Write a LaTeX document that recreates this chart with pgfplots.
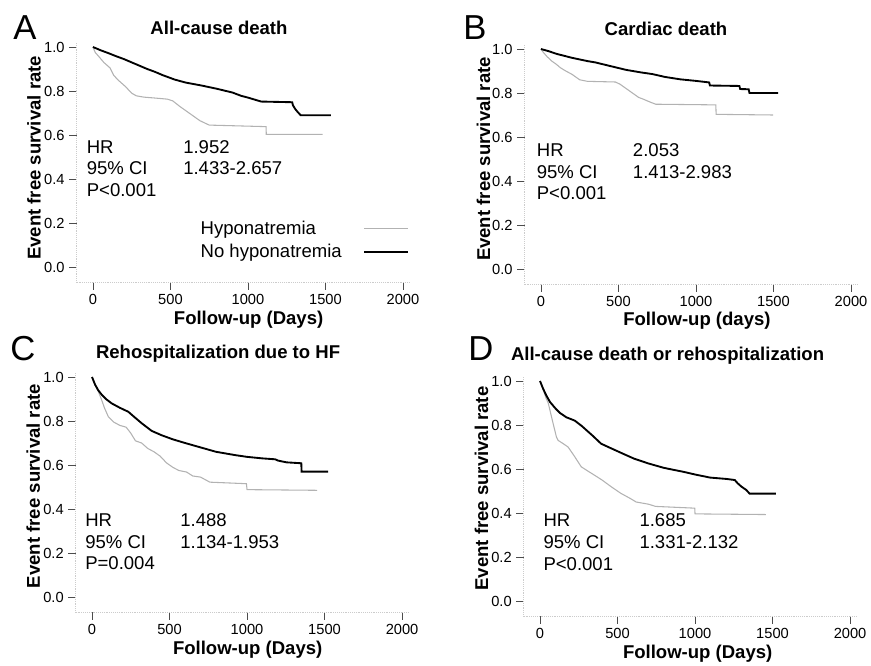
\documentclass[border=0pt]{standalone}
\usepackage{fontspec}
\setmainfont{Liberation Sans}
\usepackage{pgfplots}
\pgfplotsset{compat=1.18}

\pgfplotsset{
  km/.style={
    scale only axis, width=249.4pt, height=179.85pt,
    xmin=-105, xmax=2040, ymin=-0.07, ymax=1.02,
    axis x line*=bottom, axis y line*=left,
    axis line style={gray!40, densely dotted, -},
    xtick={0,500,1000,1500,2000}, ytick={0,0.2,0.4,0.6,0.8,1.0},
    yticklabel style={/pgf/number format/fixed, /pgf/number format/fixed zerofill, /pgf/number format/precision=1},
    xticklabel style={/pgf/number format/1000 sep={}},
    /pgf/number format/assume math mode=true,
    tick label style={font=\fontsize{11}{13}\selectfont},
    tick align=outside, major tick length=5.5pt, tick style={black!70, thin},
    label style={font=\fontsize{13.9}{16}\selectfont\bfseries},
    title style={font=\fontsize{13.9}{16}\selectfont\bfseries, anchor=center, yshift=0pt},
    xlabel style={anchor=center}, ylabel style={anchor=center},
    ylabel={Event free survival rate},
    clip=false,
  },
  hypo/.style={gray!60, line width=0.8pt},
  nohypo/.style={black, line width=1.4pt},
}
\tikzset{txt/.style={anchor=west, inner sep=0pt, font=\fontsize{13.9}{16}\selectfont}}

\begin{document}
\begin{tikzpicture}
\path[use as bounding box] (0,0) rectangle (653.25pt,498.75pt);

% A: all-cause death
\begin{axis}[km, anchor=south west, at={(57.5pt,286.95pt)},
    title={All-cause death}, title style={at={(0.428,1.03)}},
    xlabel={Follow-up (Days)}, xlabel style={at={(0.517,-0.157)}},
    ylabel style={at={(-0.128,0.519)}},
    legend plot pos=right, legend cell align=left,
    legend image code/.code={\draw[#1] (0pt,0pt) -- (33pt,0pt);},
    legend style={draw=none, fill=none, at={(0.352,0.175)}, anchor=west,
      font=\fontsize{13.9}{16}\selectfont, row sep=2pt, column sep=14pt}]
\addplot[hypo] coordinates {
 (0,1.0) (15,0.975) (40,0.955) (70,0.93) (110,0.905) (135,0.87) (170,0.845)
 (210,0.82) (250,0.79) (280,0.778) (330,0.772) (400,0.768) (480,0.763)
 (515,0.755) (560,0.73) (600,0.71) (650,0.685) (690,0.665) (750,0.645)
 (1117,0.638) (1118,0.603) (1481,0.603)};
\addlegendentry{Hyponatremia}
\addplot[nohypo] coordinates {
 (0,1.0) (50,0.985) (100,0.972) (150,0.958) (200,0.945) (250,0.93) (300,0.915)
 (350,0.9) (400,0.887) (450,0.872) (527,0.852) (600,0.838) (700,0.825)
 (800,0.81) (900,0.793) (956,0.778) (1000,0.77) (1085,0.752) (1285,0.749)
 (1290,0.735) (1305,0.718) (1320,0.705) (1340,0.69) (1535,0.69)};
\addlegendentry{No hyponatremia}
\node[txt] at (axis cs:-41,0.545) {HR};
\node[txt] at (axis cs:-41,0.45) {95\% CI};
\node[txt] at (axis cs:-41,0.35) {P<0.001};
\node[txt] at (axis cs:581,0.545) {1.952};
\node[txt] at (axis cs:581,0.45) {1.433-2.657};
\end{axis}

% B: cardiac death
\begin{axis}[km, anchor=south west, at={(393.5pt,285.45pt)},
    title={Cardiac death}, title style={at={(0.425,1.034)}},
    xlabel={Follow-up (days)}, xlabel style={at={(0.518,-0.153)}},
    ylabel style={at={(-0.124,0.523)}}]
\addplot[hypo] coordinates {
 (0,1.0) (15,0.985) (40,0.965) (70,0.945) (100,0.93) (125,0.915) (160,0.9)
 (200,0.885) (250,0.86) (300,0.853) (480,0.85) (510,0.84) (540,0.825)
 (570,0.81) (600,0.795) (630,0.78) (660,0.772) (700,0.76) (740,0.749)
 (1128,0.746) (1130,0.703) (1498,0.70)};
\addplot[nohypo] coordinates {
 (0,1.0) (50,0.99) (100,0.978) (200,0.96) (300,0.945) (351,0.939) (450,0.922)
 (550,0.905) (650,0.893) (719,0.886) (800,0.873) (900,0.862) (1000,0.855)
 (1085,0.848) (1090,0.834) (1280,0.832) (1285,0.818) (1340,0.817)
 (1345,0.80) (1530,0.80)};
\node[txt] at (axis cs:-28,0.541) {HR};
\node[txt] at (axis cs:-28,0.441) {95\% CI};
\node[txt] at (axis cs:-28,0.345) {P<0.001};
\node[txt] at (axis cs:592,0.541) {2.053};
\node[txt] at (axis cs:592,0.441) {1.413-2.983};
\end{axis}

% C: rehospitalization due to HF
\begin{axis}[km, anchor=south west, at={(56.8pt,39.45pt)},
    title={Rehospitalization due to HF}, title style={at={(0.428,1.047)}},
    xlabel={Follow-up (Days)}, xlabel style={at={(0.517,-0.157)}},
    ylabel style={at={(-0.128,0.527)}}]
\addplot[hypo] coordinates {
 (0,1.0) (20,0.965) (40,0.935) (60,0.90) (80,0.86) (105,0.82) (140,0.795)
 (180,0.78) (220,0.772) (250,0.745) (280,0.71) (320,0.70) (360,0.675)
 (400,0.66) (440,0.64) (480,0.61) (520,0.59) (560,0.575) (610,0.568)
 (650,0.55) (700,0.545) (760,0.522) (996,0.515) (1000,0.488) (1452,0.485)};
\addplot[nohypo] coordinates {
 (0,1.0) (20,0.965) (40,0.94) (62,0.92) (90,0.9) (127,0.88) (180,0.86)
 (234,0.842) (270,0.82) (320,0.79) (385,0.755) (450,0.735) (520,0.717)
 (600,0.70) (700,0.68) (800,0.66) (923,0.645) (1000,0.637) (1100,0.63)
 (1181,0.626) (1200,0.62) (1256,0.612) (1350,0.608) (1352,0.57) (1523,0.57)};
\node[txt] at (axis cs:-45,0.35) {HR};
\node[txt] at (axis cs:-45,0.251) {95\% CI};
\node[txt] at (axis cs:-45,0.153) {P=0.004};
\node[txt] at (axis cs:568,0.35) {1.488};
\node[txt] at (axis cs:568,0.251) {1.134-1.953};
\end{axis}

% D: all-cause death or rehospitalization
\begin{axis}[km, anchor=south west, at={(392.8pt,36.45pt)},
    title={All-cause death or rehospitalization}, title style={at={(0.4325,1.055)}},
    xlabel={Follow-up (Days)}, xlabel style={at={(0.523,-0.157)}},
    ylabel style={at={(-0.127,0.533)}}]
\addplot[hypo] coordinates {
 (0,1.0) (21,0.96) (40,0.92) (53,0.90) (80,0.82) (106,0.745) (117,0.73)
 (150,0.715) (181,0.70) (220,0.66) (266,0.61) (310,0.59) (351,0.572)
 (400,0.55) (458,0.52) (520,0.49) (585,0.465) (620,0.45) (700,0.44)
 (745,0.43) (998,0.422) (1000,0.396) (1457,0.393)};
\addplot[nohypo] coordinates {
 (0,1.0) (20,0.965) (40,0.935) (64,0.905) (100,0.875) (128,0.855) (170,0.835)
 (224,0.82) (270,0.795) (340,0.751) (394,0.715) (468,0.691) (540,0.668)
 (607,0.647) (700,0.625) (800,0.605) (927,0.587) (1000,0.575) (1097,0.561)
 (1200,0.555) (1256,0.55) (1275,0.535) (1299,0.52) (1330,0.505) (1352,0.488)
 (1521,0.488)};
\node[txt] at (axis cs:21,0.368) {HR};
\node[txt] at (axis cs:21,0.267) {95\% CI};
\node[txt] at (axis cs:21,0.169) {P<0.001};
\node[txt] at (axis cs:640,0.368) {1.685};
\node[txt] at (axis cs:640,0.267) {1.331-2.132};
\end{axis}

% panel letters
\node[font=\fontsize{26}{30}\selectfont] at (18.75pt,478pt) {A};
\node[font=\fontsize{26}{30}\selectfont] at (356.25pt,478pt) {B};
\node[font=\fontsize{26}{30}\selectfont] at (17.25pt,237.5pt) {C};
\node[font=\fontsize{26}{30}\selectfont] at (360.75pt,237.5pt) {D};
\end{tikzpicture}
\end{document}
